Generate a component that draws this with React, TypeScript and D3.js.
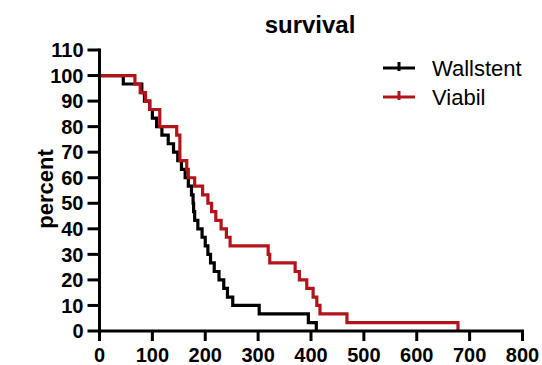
import React from "react";
import * as d3 from "d3";

const title = "survival";
const yLabel = "percent";
const seriesNames = ["Wallstent", "Viabil"];
const seriesColors = ["#000000", "#b3141a"];

const xTicks = [0, 100, 200, 300, 400, 500, 600, 700, 800];
const yTicks = [0, 10, 20, 30, 40, 50, 60, 70, 80, 90, 100, 110];

const wallstentTimes = [0, 45, 80, 85, 95, 100, 108, 118, 130, 140, 148, 155, 162, 168, 174, 177, 178, 180, 186, 194, 200, 205, 210, 217, 226, 235, 242, 252, 302, 395, 410];
const wallstentSurv = [100, 96.7, 93.3, 90, 86.7, 83.3, 80, 76.7, 73.3, 70, 66.7, 63.3, 60, 56.7, 53.3, 50, 46.7, 43.3, 40, 36.7, 33.3, 30, 26.7, 23.3, 20, 16.7, 13.3, 10, 6.7, 3.3, 0];

const viabilTimes = [0, 67, 77, 87, 95, 114, 146, 152, 165, 168, 180, 195, 205, 212, 220, 230, 240, 247, 319, 322, 370, 378, 392, 404, 411, 417, 468, 678];
const viabilSurv = [100, 96.7, 93.3, 90, 86.7, 80, 76.7, 66.7, 63.3, 60, 56.7, 53.3, 50, 46.7, 43.3, 40, 36.7, 33.3, 30, 26.7, 23.3, 20, 16.7, 13.3, 10, 6.7, 3.3, 0];

const FONT = "'Liberation Sans', Arial, Helvetica, sans-serif";

export default function App() {
  const W = 542, H = 365;
  const x = d3.scaleLinear().domain([0, 800]).range([99.5, 522.5]);
  const y = d3.scaleLinear().domain([0, 110]).range([331, 50]);

  const line = d3
    .line<[number, number]>()
    .x((d) => x(d[0]))
    .y((d) => y(d[1]))
    .curve(d3.curveStepAfter);

  const series = [
    { times: wallstentTimes, surv: wallstentSurv },
    { times: viabilTimes, surv: viabilSurv },
  ];

  const xTickLen = 10;
  const yTickLen = 12;

  return (
    <svg
      width={W}
      height={H}
      style={{ position: "absolute", left: 0, top: 0, background: "#fff" }}
      fontFamily={FONT}
    >
      <rect x={0} y={0} width={W} height={H} fill="#fff" />
      <text x={310} y={33} textAnchor="middle" fontSize={24} fontWeight="bold">
        {title}
      </text>
      <text
        transform={`translate(53,${189}) rotate(-90)`}
        textAnchor="middle"
        fontSize={22}
        fontWeight="bold"
      >
        {yLabel}
      </text>

      {/* curves */}
      {series.map((s, i) => (
        <path
          key={i}
          d={line(s.times.map((t, j) => [t, s.surv[j]] as [number, number])) || ""}
          fill="none"
          stroke={seriesColors[i]}
          strokeWidth={3.2}
          strokeLinejoin="miter"
        />
      ))}

      {/* y axis */}
      <line x1={x(0)} x2={x(0)} y1={y(110) - 1.5} y2={y(0) + 1.5} stroke="#000" strokeWidth={3} />
      {yTicks.map((t) => (
        <g key={t}>
          <line x1={x(0) - yTickLen} x2={x(0)} y1={y(t)} y2={y(t)} stroke="#000" strokeWidth={3} />
          <text x={x(0) - yTickLen - 4} y={y(t)} dy="0.36em" textAnchor="end" fontSize={20} fontWeight="bold">
            {t}
          </text>
        </g>
      ))}

      {/* x axis */}
      <line x1={x(0) - 1.5} x2={x(800) + 1.5} y1={y(0)} y2={y(0)} stroke="#000" strokeWidth={3} />
      {xTicks.map((t) => (
        <g key={t}>
          <line x1={x(t)} x2={x(t)} y1={y(0)} y2={y(0) + xTickLen} stroke="#000" strokeWidth={3} />
          <text x={x(t)} y={y(0) + xTickLen + 21} textAnchor="middle" fontSize={20} fontWeight="bold">
            {t}
          </text>
        </g>
      ))}

      {/* legend */}
      {seriesNames.map((n, i) => {
        const ly = 68 + i * 29;
        return (
          <g key={n}>
            <line x1={383} x2={415} y1={ly} y2={ly} stroke={seriesColors[i]} strokeWidth={3} />
            <line x1={399} x2={399} y1={ly - 6} y2={ly + 3} stroke={seriesColors[i]} strokeWidth={3} />
            <text x={432} y={ly} dy="0.36em" fontSize={22}>
              {n}
            </text>
          </g>
        );
      })}
    </svg>
  );
}
